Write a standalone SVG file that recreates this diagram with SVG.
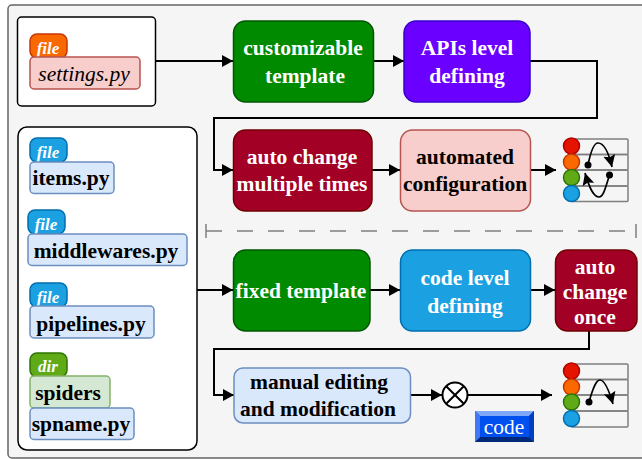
<svg xmlns="http://www.w3.org/2000/svg" width="642" height="459" viewBox="0 0 642 459">
<style>
text{font-family:"Liberation Serif","Times New Roman",serif;text-anchor:middle}
.b{font-weight:bold;font-size:21.500px;fill:#000}
.w{font-weight:bold;font-size:21.500px;fill:#fff}
.tag{font-weight:bold;font-style:italic;font-size:17px;fill:#fff}
.c{fill:none;stroke:#000;stroke-width:2}
.bl{fill:#dae8fc;stroke:#6c8ebf;stroke-width:1.5}
.org{fill:#fa6800;stroke:#c73500;stroke-width:1.5}
.cy{fill:#1ba1e2;stroke:#006eaf;stroke-width:1.5}
.gr{fill:#60a917;stroke:#2d7600;stroke-width:1.5}
.red{fill:#e51400;stroke:#b20000;stroke-width:1.5}
.pk{fill:#f8cecc;stroke:#b85450;stroke-width:1.5}
.grn{fill:#008a00;stroke:#005700;stroke-width:1.5}
.mar{fill:#a20025;stroke:#6f0000;stroke-width:1.5}
.rw{fill:none;stroke:#7f7f7f;stroke-width:1.5}
.cv{fill:none;stroke:#000;stroke-width:1.7}
</style>
<defs>
<marker id="a" markerUnits="userSpaceOnUse" markerWidth="12" markerHeight="13" refX="11" refY="6" orient="auto"><path d="M0 0L11 6L0 12Z" fill="#000"/></marker>
<marker id="s" markerUnits="userSpaceOnUse" markerWidth="14" markerHeight="13" refX="12" refY="6" orient="auto"><path d="M0 0L12 6L0 12L2 6Z" fill="#000"/></marker>
</defs>
<rect x="8" y="5" width="650" height="453" rx="4" fill="#f5f5f5" stroke="#666" stroke-width="1.5"/>
<g id="connectors">
<path class="c" marker-end="url(#a)" d="M155 61H233"/>
<path class="c" marker-end="url(#a)" d="M373 61H404"/>
<path class="c" marker-end="url(#a)" d="M530 61H597V118H214V170H233"/>
<path class="c" marker-end="url(#a)" d="M372 170H400"/>
<path class="c" marker-end="url(#a)" d="M530 170H556"/>
<path class="c" marker-end="url(#a)" d="M197 290H233"/>
<path class="c" marker-end="url(#a)" d="M370 290H400"/>
<path class="c" marker-end="url(#a)" d="M530 290H555"/>
<path class="c" marker-end="url(#a)" d="M589 331V349H214V395H234"/>
<path class="c" marker-end="url(#a)" d="M410 395H442"/>
<path class="c" marker-end="url(#a)" d="M468 395H552"/>
</g>
<g id="divider" fill="none" stroke="#7f7f7f" stroke-width="1.5">
<path d="M206 231H636" stroke-dasharray="16 15"/>
<path d="M206 224V238M636 224V238"/>
</g>
<g id="settings-box">
<rect x="17.500" y="17" width="138" height="89" rx="4" fill="#fff" stroke="#000" stroke-width="1.500"/>
<rect class="org" x="30" y="34" width="37" height="24" rx="7"/>
<text class="tag" x="48" y="54">file</text>
<rect class="pk" x="30" y="57" width="110" height="32" rx="4"/>
<text x="84" y="81" font-size="21.500" font-style="italic">settings.py</text>
</g>
<g id="files-box">
<rect x="18" y="127" width="179" height="323" rx="9" fill="#fff" stroke="#000" stroke-width="1.500"/>
</g>
<g id="items">
<rect class="cy" x="30" y="138" width="37" height="24" rx="7"/>
<text class="tag" x="48" y="158">file</text>
<rect class="bl" x="30" y="162" width="84" height="31.500" rx="4"/>
<text class="b" x="71" y="185">items.py</text>
</g>
<g id="middlewares">
<rect class="cy" x="28" y="210" width="37" height="24" rx="7"/>
<text class="tag" x="46" y="230">file</text>
<rect class="bl" x="28" y="234" width="159" height="31.500" rx="4"/>
<text class="b" x="106" y="258">middlewares.py</text>
</g>
<g id="pipelines">
<rect class="cy" x="30" y="283" width="37" height="24" rx="7"/>
<text class="tag" x="48" y="303">file</text>
<rect class="bl" x="30" y="306" width="124" height="32" rx="4"/>
<text class="b" x="91" y="331">pipelines.py</text>
</g>
<g id="spiders">
<rect class="gr" x="30" y="353" width="37" height="24" rx="7"/>
<text class="tag" x="48" y="372">dir</text>
<rect x="30" y="376" width="80" height="32" rx="4" fill="#d5e8d4" stroke="#82b366" stroke-width="1.500"/>
<text class="b" x="68" y="400">spiders</text>
</g>
<g id="spname">
<rect class="bl" x="30" y="408" width="104" height="31.500" rx="4"/>
<text class="b" x="81" y="431">spname.py</text>
</g>
<g id="customizable">
<rect class="grn" x="233.500" y="21" width="140" height="81" rx="12"/>
<text class="w" x="303" y="55">customizable</text><text class="w" x="305" y="83">template</text>
</g>
<g id="apis">
<rect x="404" y="21" width="126" height="81" rx="12" fill="#6a00ff" stroke="#3700cc" stroke-width="1.500"/>
<text class="w" x="467" y="55">APIs level</text><text class="w" x="467" y="83">defining</text>
</g>
<g id="auto-multi">
<rect class="mar" x="233.500" y="130" width="138.500" height="81" rx="12"/>
<text class="w" x="302" y="164">auto change</text><text class="w" x="302" y="191">multiple times</text>
</g>
<g id="automated">
<rect class="pk" x="400.500" y="130" width="130" height="81" rx="12"/>
<text class="b" x="465" y="164">automated</text><text class="b" x="465" y="191">configuration</text>
</g>
<g id="icon-top">
<rect class="rw" x="571" y="139" width="57" height="15.500" rx="1"/>
<rect class="rw" x="571" y="154.500" width="57" height="15.500" rx="1"/>
<rect class="rw" x="571" y="170" width="57" height="16" rx="1"/>
<rect class="rw" x="571" y="186" width="57" height="15.500" rx="1"/>
<circle class="red" cx="571.500" cy="146" r="8"/>
<circle class="org" cx="571.500" cy="162" r="8"/>
<circle class="gr" cx="571.500" cy="177.500" r="8"/>
<circle class="cy" cx="571.500" cy="193.500" r="8"/>
<circle cx="588" cy="165" r="3.500"/><circle cx="609.500" cy="175" r="3.500"/>
<path class="cv" marker-end="url(#s)" d="M588 165C591 150 594 143 598 143C603 143 608 150 612 167"/>
<path class="cv" marker-end="url(#s)" d="M609.500 175C605 190 603 197 599 197C594 197 590 190 585 173"/>
</g>
<g id="fixed">
<rect class="grn" x="233.500" y="250" width="136.500" height="81" rx="12"/>
<text class="w" x="301" y="298">fixed template</text>
</g>
<g id="code-level">
<rect class="cy" x="400.500" y="250" width="130" height="81" rx="12"/>
<text class="w" x="465" y="285">code level</text><text class="w" x="465" y="313">defining</text>
</g>
<g id="auto-once">
<rect class="mar" x="555.500" y="250" width="81.500" height="81" rx="12"/>
<text class="w" x="595" y="274">auto</text><text class="w" x="595" y="299">change</text><text class="w" x="595" y="324">once</text>
</g>
<g id="manual">
<rect class="bl" x="234" y="368" width="176.500" height="55" rx="9"/>
<text class="b" x="319" y="389">manual editing</text><text class="b" x="318" y="416">and modification</text>
</g>
<g id="xor">
<circle cx="455" cy="395" r="12.500" fill="#fff" stroke="#000" stroke-width="2"/>
<path d="M446.200 386.200L463.800 403.800M463.800 386.200L446.200 403.800" stroke="#000" stroke-width="2"/>
</g>
<g id="code">
<rect x="475" y="411" width="59" height="31" fill="#0050ef"/>
<path d="M475 411H534L529 416H480Z" fill="#7fa7f7"/>
<path d="M475 442H534L529 437H480Z" fill="#00287a"/>
<path d="M475 411L480 416V437L475 442Z" fill="#4079f3"/>
<path d="M534 411L529 416V437L534 442Z" fill="#0040c0"/>
<text x="504" y="434" font-size="21.500" fill="#fff">code</text>
</g>
<g id="icon-bottom">
<rect class="rw" x="571" y="364" width="57" height="15.500" rx="1"/>
<rect class="rw" x="571" y="379.500" width="57" height="15.500" rx="1"/>
<rect class="rw" x="571" y="395" width="57" height="16" rx="1"/>
<rect class="rw" x="571" y="411" width="57" height="16" rx="1"/>
<circle class="red" cx="571.500" cy="371" r="8"/>
<circle class="org" cx="571.500" cy="387" r="8"/>
<circle class="gr" cx="571.500" cy="402" r="8"/>
<circle class="cy" cx="571.500" cy="418.500" r="8"/>
<circle cx="589" cy="402" r="3.500"/>
<path class="cv" marker-end="url(#s)" d="M589 402C593 388 596 380 600 380C604 380 608 387 613 404"/>
</g>
</svg>
